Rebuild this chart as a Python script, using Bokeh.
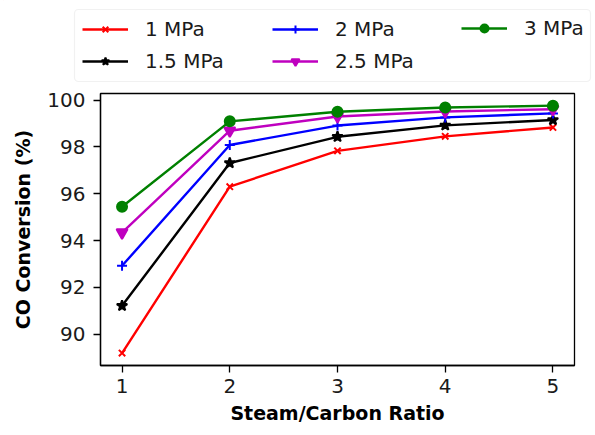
from bokeh.plotting import figure
from bokeh.models import Legend, LegendItem, FixedTicker, BoxAnnotation
from bokeh.layouts import column
from bokeh.embed import file_html
from bokeh.resources import INLINE

ratio = [1, 2, 3, 4, 5]
conv_1 = [89.19, 96.30, 97.83, 98.45, 98.83]
conv_15 = [91.21, 97.31, 98.43, 98.92, 99.15]
conv_2 = [92.92, 98.08, 98.91, 99.26, 99.43]
conv_25 = [94.34, 98.69, 99.30, 99.51, 99.61]
conv_3 = [95.44, 99.09, 99.50, 99.68, 99.76]
labels = ["1 MPa", "1.5 MPa", "2 MPa", "2.5 MPa", "3 MPa"]
x_ticks = [1, 2, 3, 4, 5]
y_ticks = [90, 92, 94, 96, 98, 100]

series = [conv_1, conv_15, conv_2, conv_25, conv_3]
colors = ["#ff0000", "#000000", "#0000ff", "#bf00bf", "#008000"]
markers = ["x", "star", "cross", "inverted_triangle", "circle"]
msizes = [9, 11, 10, 11, 10]

FONT = "DejaVu Sans"
W = 595
LEG_H = 85
MAIN_H = 350

# ---------- legend strip (above the plot); its own renderers lie outside its view ----------
lf = figure(width=W, height=LEG_H, x_range=(0, W), y_range=(0, LEG_H),
            x_axis_type=None, y_axis_type=None, output_backend="svg",
            toolbar_location=None, min_border=0)
lf.outline_line_color = None
lf.frame_align = False

frame_box = BoxAnnotation(left=74, right=590, bottom=4, top=76,
                          fill_color="white", fill_alpha=1.0,
                          line_color="#d0d0d0", line_width=1.2, border_radius=4)
lf.add_layout(frame_box)

leg_items = {}
for ys, c, m, s, lab in zip(series, colors, markers, msizes, labels):
    d1 = lf.line(ratio, ys, line_color=c, line_width=2.4)
    d2 = lf.scatter(ratio, ys, marker=m, size=s, line_color=c, fill_color=c, line_width=2)
    leg_items[lab] = LegendItem(label=lab, renderers=[d1, d2])

def make_legend(labs, loc):
    return Legend(items=[leg_items[l] for l in labs], orientation="vertical",
                  location=loc, glyph_width=46, glyph_height=20, label_standoff=17,
                  label_height=20, spacing=8, padding=0, margin=0,
                  label_text_font=FONT, label_text_font_size="20px",
                  label_text_color="#1a1a1a",
                  border_line_color=None, background_fill_alpha=0.0)

lf.add_layout(make_legend(["1 MPa", "1.5 MPa"], (82, 12)), "center")
lf.add_layout(make_legend(["2 MPa", "2.5 MPa"], (272, 12)), "center")
lf.add_layout(make_legend(["3 MPa"], (461, 45)), "center")

# ---------- main plot ----------
p = figure(width=W, height=MAIN_H, x_range=(0.8, 5.2), y_range=(88.66, 100.28),
           output_backend="svg", toolbar_location=None,
           min_border_left=100, min_border_top=8, min_border_right=21, min_border_bottom=70)
p.frame_align = False

for ys, c, m, s in zip(series, colors, markers, msizes):
    p.line(ratio, ys, line_color=c, line_width=2.4)
    p.scatter(ratio, ys, marker=m, size=s, line_color=c, fill_color=c, line_width=2)

p.xgrid.visible = False
p.ygrid.visible = False
p.outline_line_color = "black"
p.outline_line_width = 1.3
p.outline_line_alpha = 1.0

p.xaxis.ticker = FixedTicker(ticks=x_ticks)
p.yaxis.ticker = FixedTicker(ticks=y_ticks)
for ax in (p.xaxis, p.yaxis):
    ax.axis_line_color = "black"
    ax.axis_line_width = 1.3
    ax.major_tick_line_color = "black"
    ax.major_tick_line_width = 1.3
    ax.major_tick_out = 7
    ax.major_tick_in = 0
    ax.minor_tick_line_color = None
    ax.major_label_text_font = FONT
    ax.major_label_text_font_size = "20px"
    ax.major_label_text_color = "#1a1a1a"
    ax.axis_label_text_font = FONT
    ax.axis_label_text_font_size = "19px"
    ax.axis_label_text_font_style = "bold"
    ax.axis_label_text_color = "black"

p.xaxis.axis_label = "Steam/Carbon Ratio"
p.yaxis.axis_label = "CO Conversion (%)"
p.xaxis.major_label_standoff = 6
p.xaxis.axis_label_standoff = 6
p.yaxis.major_label_standoff = 8
p.yaxis.axis_label_standoff = 10

layout = column(lf, p, spacing=0)
open("out.html", "w").write(file_html(layout, INLINE))
